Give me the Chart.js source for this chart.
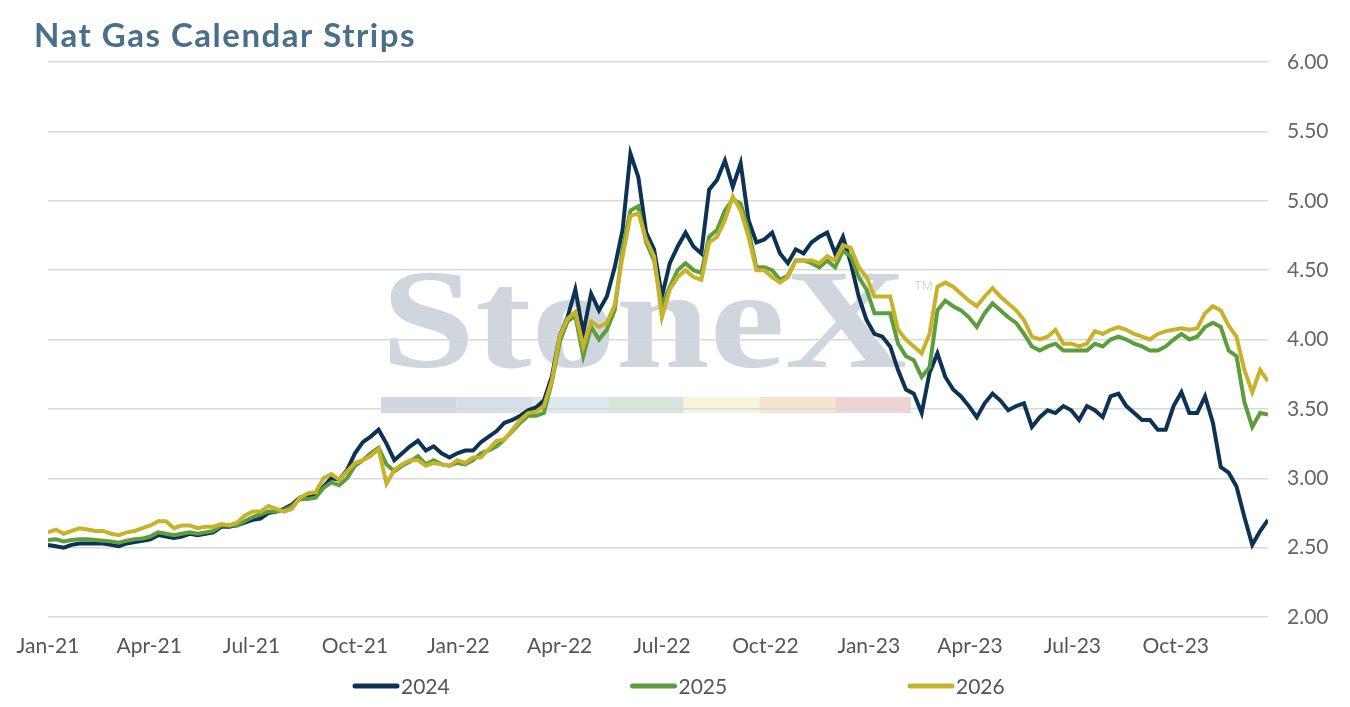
<!DOCTYPE html>
<html>
<head>
<meta charset="utf-8">
<title>Nat Gas Calendar Strips</title>
<script src="https://cdn.jsdelivr.net/npm/chart.js@4.4.0/dist/chart.umd.min.js"></script>
<style>
  html, body { margin: 0; padding: 0; background: #ffffff; }
  #wrap { width: 1350px; height: 707px; position: relative; }
</style>
</head>
<body>
<div id="wrap"><canvas id="stripChart"></canvas></div>
<script>
// weekly settles of the calendar strips, first point 1 Jan 2021
var startDate = '2021-01-01';
var stepDays = 7;

var quarterStarts = ['2021-01-01', '2021-04-01', '2021-07-01', '2021-10-01',
    '2022-01-01', '2022-04-01', '2022-07-01', '2022-10-01',
    '2023-01-01', '2023-04-01', '2023-07-01', '2023-10-01'];
var tickLabels = ['Jan-21', 'Apr-21', 'Jul-21', 'Oct-21', 'Jan-22', 'Apr-22',
    'Jul-22', 'Oct-22', 'Jan-23', 'Apr-23', 'Jul-23', 'Oct-23'];

var seriesNames = ['2024', '2025', '2026'];

var strip2024 = [
    2.52, 2.51, 2.50, 2.52, 2.53, 2.53, 2.53, 2.53, 2.52, 2.51,
    2.53, 2.54, 2.55, 2.56, 2.59, 2.58, 2.57, 2.58, 2.60, 2.59,
    2.60, 2.61, 2.65, 2.65, 2.66, 2.68, 2.70, 2.71, 2.75, 2.76,
    2.78, 2.81, 2.86, 2.87, 2.88, 2.94, 3.00, 2.99, 3.06, 3.18,
    3.26, 3.30, 3.35, 3.25, 3.13, 3.18, 3.23, 3.27, 3.20, 3.23,
    3.18, 3.15, 3.18, 3.20, 3.20, 3.26, 3.30, 3.34, 3.40, 3.42,
    3.45, 3.49, 3.51, 3.56, 3.73, 4.02, 4.16, 4.36, 4.05, 4.33,
    4.21, 4.31, 4.52, 4.79, 5.34, 5.17, 4.77, 4.65, 4.31, 4.55,
    4.67, 4.77, 4.67, 4.62, 5.08, 5.15, 5.29, 5.10, 5.27, 4.86,
    4.70, 4.72, 4.77, 4.62, 4.55, 4.65, 4.62, 4.70, 4.74, 4.77,
    4.62, 4.74, 4.55, 4.31, 4.14, 4.04, 4.02, 3.95, 3.78, 3.64,
    3.61, 3.47, 3.76, 3.90, 3.73, 3.64, 3.59, 3.52, 3.44, 3.54,
    3.61, 3.56, 3.49, 3.52, 3.54, 3.37, 3.44, 3.49, 3.47, 3.52,
    3.49, 3.42, 3.52, 3.49, 3.44, 3.59, 3.61, 3.52, 3.47, 3.42,
    3.42, 3.35, 3.35, 3.52, 3.62, 3.47, 3.47, 3.59, 3.40, 3.08,
    3.04, 2.94, 2.72, 2.52, 2.62, 2.70
];
var strip2025 = [
    2.555, 2.56, 2.545, 2.555, 2.56, 2.56, 2.555, 2.55, 2.545, 2.535,
    2.55, 2.56, 2.565, 2.58, 2.61, 2.60, 2.59, 2.60, 2.61, 2.60,
    2.61, 2.62, 2.66, 2.66, 2.66, 2.69, 2.72, 2.74, 2.76, 2.76,
    2.77, 2.80, 2.85, 2.85, 2.86, 2.93, 2.97, 2.95, 3.00, 3.09,
    3.13, 3.18, 3.22, 3.10, 3.05, 3.09, 3.12, 3.16, 3.10, 3.13,
    3.10, 3.09, 3.11, 3.10, 3.13, 3.18, 3.20, 3.23, 3.28, 3.34,
    3.40, 3.45, 3.45, 3.47, 3.69, 3.98, 4.13, 4.17, 3.88, 4.09,
    4.00, 4.07, 4.21, 4.65, 4.93, 4.96, 4.70, 4.57, 4.24, 4.38,
    4.50, 4.55, 4.50, 4.48, 4.74, 4.79, 4.93, 5.01, 4.98, 4.79,
    4.52, 4.52, 4.50, 4.43, 4.46, 4.57, 4.57, 4.55, 4.52, 4.57,
    4.52, 4.64, 4.60, 4.45, 4.36, 4.19, 4.19, 4.19, 3.97, 3.88,
    3.85, 3.73, 3.80, 4.21, 4.28, 4.24, 4.21, 4.16, 4.09, 4.19,
    4.26, 4.21, 4.16, 4.12, 4.04, 3.95, 3.92, 3.95, 3.97, 3.92,
    3.92, 3.92, 3.92, 3.97, 3.95, 4.00, 4.02, 4.00, 3.97, 3.95,
    3.92, 3.92, 3.95, 4.00, 4.04, 4.00, 4.02, 4.09, 4.12, 4.09,
    3.92, 3.88, 3.55, 3.37, 3.47, 3.46
];
var strip2026 = [
    2.61, 2.63, 2.60, 2.62, 2.64, 2.63, 2.62, 2.62, 2.60, 2.59,
    2.61, 2.62, 2.64, 2.66, 2.69, 2.69, 2.64, 2.66, 2.66, 2.64,
    2.65, 2.65, 2.67, 2.66, 2.68, 2.73, 2.76, 2.76, 2.80, 2.78,
    2.76, 2.78, 2.86, 2.89, 2.90, 3.00, 3.03, 2.99, 3.05, 3.11,
    3.13, 3.16, 3.21, 2.96, 3.06, 3.10, 3.13, 3.13, 3.09, 3.11,
    3.10, 3.09, 3.13, 3.11, 3.15, 3.15, 3.21, 3.27, 3.28, 3.35,
    3.42, 3.47, 3.48, 3.52, 3.70, 4.02, 4.15, 4.20, 3.95, 4.13,
    4.09, 4.12, 4.25, 4.60, 4.89, 4.91, 4.72, 4.60, 4.16, 4.36,
    4.45, 4.50, 4.45, 4.43, 4.70, 4.74, 4.86, 5.03, 4.93, 4.74,
    4.50, 4.50, 4.45, 4.41, 4.45, 4.57, 4.57, 4.57, 4.55, 4.60,
    4.57, 4.68, 4.66, 4.52, 4.45, 4.31, 4.31, 4.31, 4.07, 4.00,
    3.95, 3.90, 4.04, 4.38, 4.41, 4.38, 4.33, 4.28, 4.24, 4.31,
    4.37, 4.31, 4.26, 4.21, 4.14, 4.02, 4.00, 4.02, 4.07, 3.97,
    3.97, 3.95, 3.97, 4.06, 4.04, 4.07, 4.09, 4.07, 4.04, 4.02,
    4.00, 4.04, 4.06, 4.07, 4.08, 4.07, 4.08, 4.19, 4.24, 4.21,
    4.10, 4.02, 3.78, 3.62, 3.78, 3.70
];

var lineColors = ['#0c3254', '#5b9e3b', '#c8b22c'];

function dayOffset(s) {
    return (Date.parse(s) - Date.parse(startDate)) / 86400000;
}
var quarterDays = quarterStarts.map(dayOffset);

function toPoints(arr) {
    return arr.map(function (v, i) { return { x: i * stepDays, y: v }; });
}

// StoneX watermark behind the grid
var watermark = {
    id: 'watermark',
    beforeDraw: function (chart) {
        var ctx = chart.ctx;
        ctx.save();
        ctx.fillStyle = '#cfd6de';
        ctx.font = 'bold 142px "Liberation Serif"';
        ctx.textBaseline = 'alphabetic';
        var w = ctx.measureText('StoneX').width;
        ctx.translate(381, 367);
        ctx.scale(526 / w, 1);
        ctx.fillText('StoneX', 0, 0);
        ctx.restore();

        ctx.save();
        ctx.fillStyle = '#d3d9e0';
        ctx.font = '13px "Liberation Sans"';
        ctx.fillText('TM', 914, 290);
        var bands = ['#d1d7de', '#d6dee7', '#dde8f1', '#d7e5db', '#f6f4db', '#f7e4cd', '#efd4d6'];
        for (var b = 0; b < bands.length; b++) {
            ctx.fillStyle = bands[b];
            ctx.fillRect(381 + b * 75.7, 397, 75.7, 16);
        }
        ctx.restore();
    }
};

var titleAndLegend = {
    id: 'titleAndLegend',
    afterDraw: function (chart) {
        var ctx = chart.ctx;
        ctx.save();
        ctx.fillStyle = '#4a6f8b';
        ctx.font = 'bold 33px "Lato"';
        ctx.letterSpacing = '1.5px';
        ctx.textAlign = 'left';
        ctx.textBaseline = 'alphabetic';
        ctx.fillText('Nat Gas Calendar Strips', 34, 47);
        ctx.letterSpacing = '0px';

        ctx.font = '21px "Lato"';
        ctx.textBaseline = 'middle';
        chart.data.datasets.forEach(function (ds, i) {
            var x0 = 355 + i * 277.5;
            ctx.strokeStyle = ds.borderColor;
            ctx.lineWidth = 5;
            ctx.lineCap = 'round';
            ctx.beginPath();
            ctx.moveTo(x0, 686);
            ctx.lineTo(x0 + 42, 686);
            ctx.stroke();
            ctx.fillStyle = '#555555';
            ctx.fillText(ds.label, x0 + 46, 687);
        });
        ctx.restore();
    }
};

var allSeries = [strip2024, strip2025, strip2026];
var datasets = allSeries.map(function (arr, i) {
    return {
        label: seriesNames[i],
        data: toPoints(arr),
        borderColor: lineColors[i],
        backgroundColor: lineColors[i],
        borderWidth: 4,
        pointRadius: 0,
        tension: 0,
        order: 2 - i
    };
});

var ctx = document.getElementById('stripChart');
if (ctx) {
    new Chart(ctx, {
        type: 'line',
        data: { datasets: datasets },
        plugins: [watermark, titleAndLegend],
        options: {
            responsive: true,
            maintainAspectRatio: false,
            animation: false,
            layout: { padding: { top: 62, left: 48, right: 0, bottom: 0 } },
            scales: {
                x: {
                    type: 'linear',
                    min: 0,
                    max: 1085,
                    grid: { display: false },
                    border: { display: false },
                    afterBuildTicks: function (scale) {
                        scale.ticks = quarterDays.map(function (d) { return { value: d }; });
                    },
                    afterFit: function (scale) { scale.height = 90; },
                    ticks: {
                        autoSkip: false,
                        maxRotation: 0,
                        padding: 9,
                        color: '#555555',
                        font: { family: 'Lato', size: 21 },
                        callback: function (value) {
                            var k = quarterDays.indexOf(value);
                            return k >= 0 ? tickLabels[k] : '';
                        }
                    }
                },
                y: {
                    position: 'right',
                    min: 2,
                    max: 6,
                    grid: { color: '#d9d9d9', lineWidth: 1.5, drawTicks: false },
                    border: { display: false },
                    afterFit: function (scale) { scale.width = 82; },
                    ticks: {
                        stepSize: 0.5,
                        padding: 19,
                        color: '#666666',
                        font: { family: 'Lato', size: 21 },
                        callback: function (v) { return v.toFixed(2); }
                    }
                }
            },
            plugins: {
                legend: { display: false },
                tooltip: { enabled: false }
            }
        }
    });
} else {
    console.error("Canvas element with ID 'stripChart' not found.");
}
</script>
</body>
</html>
